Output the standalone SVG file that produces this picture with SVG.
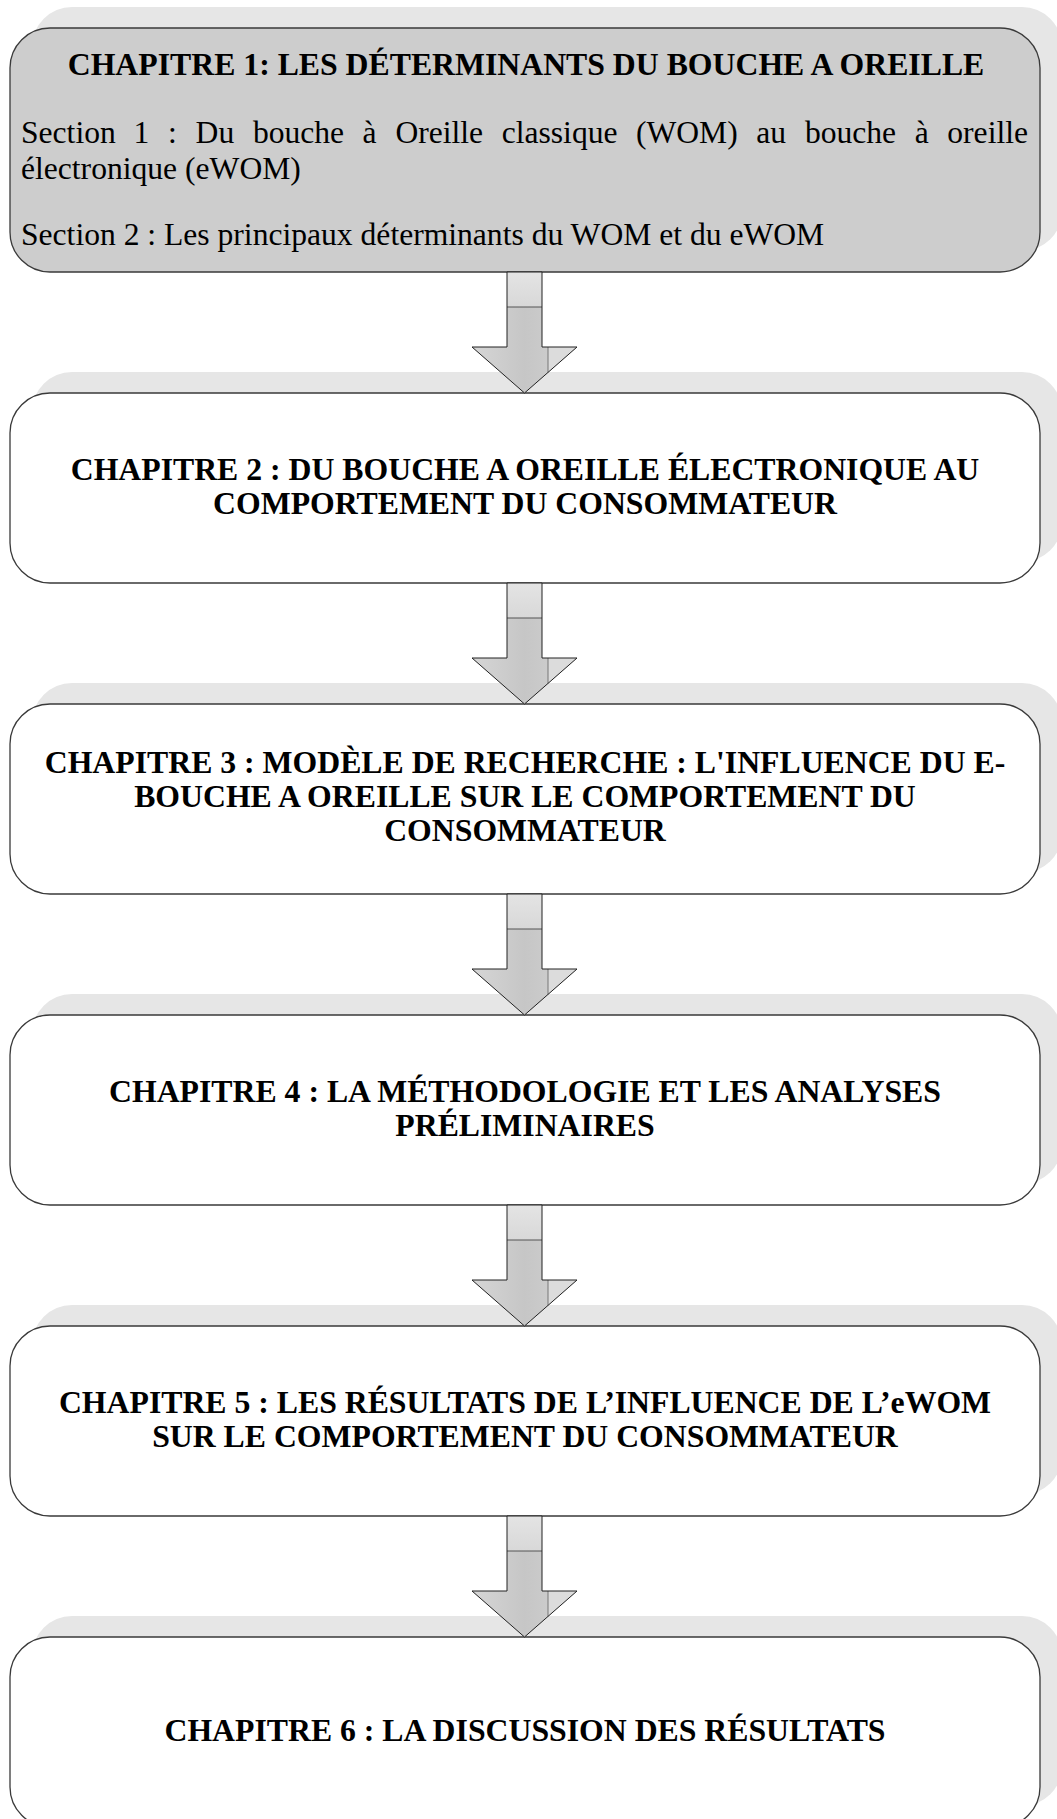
<svg xmlns="http://www.w3.org/2000/svg" xmlns:xlink="http://www.w3.org/1999/xlink" width="1057" height="1819" viewBox="0 0 1057 1819">
<defs>
<style>
.shadow{fill:#e6e6e6;stroke:none}
.box{fill:#ffffff;stroke:#3a3a3a;stroke-width:1.3}
.box1{fill:#cdcdcd;stroke:#3a3a3a;stroke-width:1.3}
.t{font-family:"Liberation Serif","Times New Roman",serif;font-size:31.6px;fill:#000}
.b{font-weight:bold;text-anchor:middle;font-size:31.75px}
.ast{stroke:#222;stroke-width:1;stroke-linejoin:miter}
</style>
<linearGradient id="shaftG" x1="0" y1="0" x2="1" y2="0">
<stop offset="0" stop-color="#d6d6d6"/>
<stop offset="0.5" stop-color="#c6c6c6"/>
<stop offset="1" stop-color="#d2d2d2"/>
</linearGradient>
<linearGradient id="topG" x1="0" y1="0" x2="0" y2="1">
<stop offset="0" stop-color="#e4e4e4"/>
<stop offset="1" stop-color="#d8d8d8"/>
</linearGradient>
<g id="arrow">
<polygon points="-17.5,0 17.5,0 17.5,75 52.5,75 0,121 -52.5,75 -17.5,75" fill="url(#shaftG)"/>
<rect x="-17.5" y="0" width="35" height="35" fill="url(#topG)"/>
<polygon points="23.5,75 52.5,75 23.5,100.4" fill="#dcdcdc"/>
<line x1="-17.5" y1="35" x2="17.5" y2="35" stroke="#555" stroke-width="1"/>
<line x1="23.5" y1="75" x2="23.5" y2="100.4" stroke="#777" stroke-width="1"/>
<polygon points="-17.5,0 17.5,0 17.5,75 52.5,75 0,121 -52.5,75 -17.5,75" fill="none" class="ast"/>
</g>
</defs>
<rect width="1057" height="1819" fill="#ffffff"/>

<g id="chapitre1">
<rect class="shadow" x="32" y="7" width="1030" height="244" rx="40"/>
<rect class="box1" x="10" y="28" width="1030" height="244" rx="40"/>
<text class="t b" x="526" y="75.3">CHAPITRE 1: LES DÉTERMINANTS DU BOUCHE A OREILLE</text>
<text class="t" y="143.3"><tspan x="21">Section</tspan><tspan x="133.6">1</tspan><tspan x="168.1">:</tspan><tspan x="195.6">Du</tspan><tspan x="252.9">bouche</tspan><tspan x="362.5">à</tspan><tspan x="395.4">Oreille</tspan><tspan x="501.7">classique</tspan><tspan x="635.9">(WOM)</tspan><tspan x="756.2">au</tspan><tspan x="804.9">bouche</tspan><tspan x="914.7">à</tspan><tspan x="947.3">oreille</tspan></text>
<text class="t" x="21" y="178.5">électronique (eWOM)</text>
<text class="t" x="21" y="245.3">Section 2 : Les principaux déterminants du WOM et du eWOM</text>
</g>

<g id="chapitre2">
<rect class="shadow" x="32" y="372" width="1030" height="190" rx="40"/>
<rect class="box" x="10" y="393" width="1030" height="190" rx="40"/>
<text class="t b" x="525" y="480.3">CHAPITRE 2 : DU BOUCHE A OREILLE ÉLECTRONIQUE AU</text>
<text class="t b" x="525" y="514.3">COMPORTEMENT DU CONSOMMATEUR</text>
</g>

<g id="chapitre3">
<rect class="shadow" x="32" y="683" width="1030" height="190" rx="40"/>
<rect class="box" x="10" y="704" width="1030" height="190" rx="40"/>
<text class="t b" x="525" y="773.2">CHAPITRE 3 : MODÈLE DE RECHERCHE : L'INFLUENCE DU E-</text>
<text class="t b" x="525" y="807.2">BOUCHE A OREILLE SUR LE COMPORTEMENT DU</text>
<text class="t b" x="525" y="841.2">CONSOMMATEUR</text>
</g>

<g id="chapitre4">
<rect class="shadow" x="32" y="994" width="1030" height="190" rx="40"/>
<rect class="box" x="10" y="1015" width="1030" height="190" rx="40"/>
<text class="t b" x="525" y="1102.3">CHAPITRE 4 : LA MÉTHODOLOGIE ET LES ANALYSES</text>
<text class="t b" x="525" y="1136.3">PRÉLIMINAIRES</text>
</g>

<g id="chapitre5">
<rect class="shadow" x="32" y="1305" width="1030" height="190" rx="40"/>
<rect class="box" x="10" y="1326" width="1030" height="190" rx="40"/>
<text class="t b" x="525" y="1413.3">CHAPITRE 5 : LES RÉSULTATS DE L’INFLUENCE DE L’eWOM</text>
<text class="t b" x="525" y="1447.3">SUR LE COMPORTEMENT DU CONSOMMATEUR</text>
</g>

<g id="chapitre6">
<rect class="shadow" x="32" y="1616" width="1030" height="190" rx="40"/>
<rect class="box" x="10" y="1637" width="1030" height="190" rx="40"/>
<text class="t b" x="525" y="1741.3">CHAPITRE 6 : LA DISCUSSION DES RÉSULTATS</text>
</g>

<g id="connectors">
<use xlink:href="#arrow" href="#arrow" transform="translate(524.5,272)"/>
<use xlink:href="#arrow" href="#arrow" transform="translate(524.5,583)"/>
<use xlink:href="#arrow" href="#arrow" transform="translate(524.5,894)"/>
<use xlink:href="#arrow" href="#arrow" transform="translate(524.5,1205)"/>
<use xlink:href="#arrow" href="#arrow" transform="translate(524.5,1516)"/>
</g>
</svg>
